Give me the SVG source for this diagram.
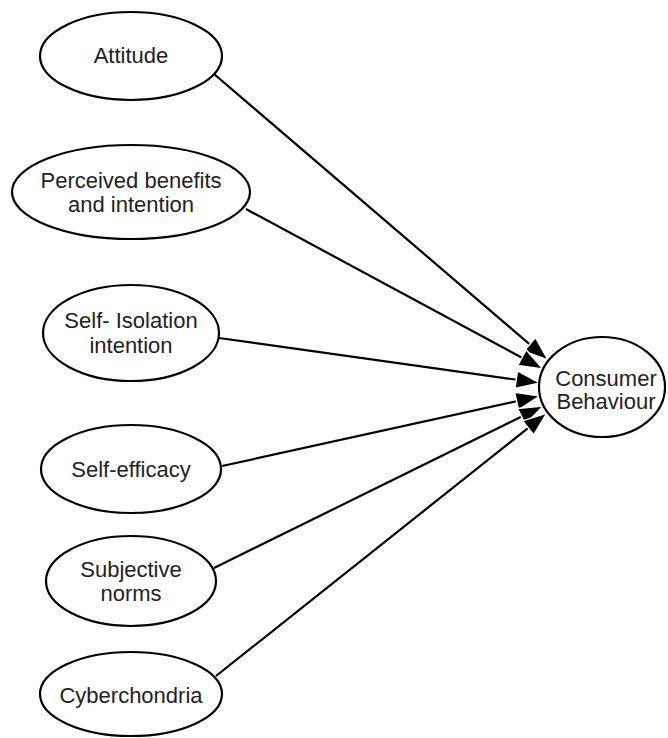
<svg xmlns="http://www.w3.org/2000/svg" width="668" height="738" viewBox="0 0 668 738">
<defs>
<marker id="arr" markerUnits="userSpaceOnUse" markerWidth="26" markerHeight="20" refX="24" refY="9" orient="auto" overflow="visible">
<path d="M0,0 L24,9 L0,18 Z" fill="#000" stroke="#fff" stroke-width="1.5"/>
</marker>
</defs>
<style>
.n ellipse{fill:#fff;stroke:#000;stroke-width:2.2}
.n text{font-family:"Liberation Sans",Arial,sans-serif;font-size:22px;fill:#222;text-anchor:middle}
.c line{stroke:#000;stroke-width:2.2;marker-end:url(#arr)}
</style>
<rect width="668" height="738" fill="#fff"/>
<g id="connectors" class="c">
<line x1="214" y1="74" x2="548" y2="360"/>
<line x1="246" y1="209" x2="543" y2="369"/>
<line x1="219" y1="338" x2="540" y2="383"/>
<line x1="222" y1="466" x2="540" y2="396"/>
<line x1="214" y1="568" x2="543" y2="406"/>
<line x1="216" y1="676" x2="547" y2="413"/>
</g>
<g id="attitude" class="n">
<ellipse cx="131" cy="56" rx="91" ry="44"/>
<text x="131" y="63">Attitude</text>
</g>
<g id="perceived" class="n">
<ellipse cx="131" cy="192" rx="119" ry="47"/>
<text x="131" y="188">Perceived benefits</text>
<text x="131" y="212">and intention</text>
</g>
<g id="selfisolation" class="n">
<ellipse cx="131" cy="333" rx="88" ry="48"/>
<text x="131" y="328">Self- Isolation</text>
<text x="131" y="353">intention</text>
</g>
<g id="selfefficacy" class="n">
<ellipse cx="131" cy="469" rx="90" ry="44"/>
<text x="131" y="477">Self-efficacy</text>
</g>
<g id="subjective" class="n">
<ellipse cx="131" cy="581" rx="85" ry="45"/>
<text x="131" y="577">Subjective</text>
<text x="131" y="601">norms</text>
</g>
<g id="cyberchondria" class="n">
<ellipse cx="131" cy="694" rx="91" ry="42"/>
<text x="131" y="703">Cyberchondria</text>
</g>
<g id="consumer" class="n">
<ellipse cx="602" cy="387" rx="63" ry="50"/>
<text x="606" y="386">Consumer</text>
<text x="606" y="409">Behaviour</text>
</g>
</svg>
